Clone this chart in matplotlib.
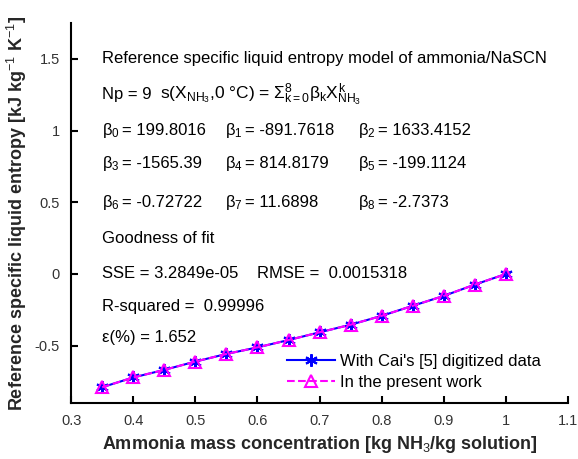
import matplotlib
matplotlib.use("Agg")
import matplotlib.pyplot as plt

x_conc = [0.35, 0.40, 0.45, 0.50, 0.55, 0.60, 0.65, 0.70, 0.75, 0.80, 0.85, 0.90, 0.95, 1.00]
s_cai = [-0.790, -0.722, -0.669, -0.611, -0.558, -0.512, -0.461, -0.407, -0.354, -0.292, -0.222, -0.153, -0.074, 0.000]
s_present = [-0.790, -0.722, -0.669, -0.611, -0.558, -0.512, -0.461, -0.407, -0.354, -0.292, -0.222, -0.153, -0.074, 0.000]

betas = ["199.8016", "-891.7618", "1633.4152", "-1565.39", "814.8179",
         "-199.1124", "-0.72722", "11.6898", "-2.7373"]

plt.rcParams.update({
    "font.family": ["Liberation Sans", "DejaVu Sans"],
    "mathtext.fontset": "custom",
    "mathtext.rm": "Liberation Sans",
    "mathtext.it": "Liberation Sans",
    "mathtext.bf": "Liberation Sans:bold",
    "mathtext.sf": "Liberation Sans",
})

fig, ax = plt.subplots(figsize=(5.78, 4.59), dpi=100)
fig.subplots_adjust(left=0.123, right=0.983, top=0.95, bottom=0.122)

ax.plot(x_conc, s_cai, "-", color="blue", marker=(6, 2, 0), markersize=9,
        markeredgewidth=1.5, lw=1.5, label="With Cai's [5] digitized data")
ax.plot(x_conc, s_present, "--", color="magenta", marker="^", markersize=8,
        markerfacecolor="none", markeredgewidth=1.5, lw=1.5, label="In the present work")

ax.set_xlim(0.3, 1.1)
ax.set_ylim(-0.9, 1.75)
ax.set_xticks([0.3, 0.4, 0.5, 0.6, 0.7, 0.8, 0.9, 1.0, 1.1])
ax.set_xticklabels(["0.3", "0.4", "0.5", "0.6", "0.7", "0.8", "0.9", "1", "1.1"])
ax.set_yticks([-0.5, 0, 0.5, 1, 1.5])
ax.set_yticklabels(["-0.5", "0", "0.5", "1", "1.5"])
ax.tick_params(direction="in", length=5, width=1.5, labelsize=10.5,
               labelcolor="#333333", pad=8)
for side in ["top", "right"]:
    ax.spines[side].set_visible(False)
for side in ["left", "bottom"]:
    ax.spines[side].set_linewidth(1.5)

ax.set_xlabel(r"Ammonia mass concentration [kg NH$_3$/kg solution]",
              fontsize=13, fontweight="bold", color="#262626", labelpad=4)
ax.set_ylabel(r"Reference specific liquid entropy [kJ kg$^{-1}$ K$^{-1}$]",
              fontsize=13, fontweight="bold", color="#262626", labelpad=4)

fs = 12
c0, c1, c2 = 0.35, 0.548, 0.762
ax.text(c0, 1.5, "Reference specific liquid entropy model of ammonia/NaSCN",
        fontsize=fs, va="center")
ax.text(c0, 1.25, "Np = 9", fontsize=fs, va="center")
ax.text(0.4435, 1.25,
        r"s(X$_{\mathrm{NH}_3}$,0 °C) = $\Sigma_{k=0}^{8}\beta_k X_{\mathrm{NH}_3}^{k}$",
        fontsize=fs + 0.5, va="center")
rows_y = [1.0, 0.77, 0.5]
cols_x = [c0, c1, c2]
for i, b in enumerate(betas):
    xb, yb = cols_x[i % 3], rows_y[i // 3]
    ax.text(xb, yb, rf"$\beta_{i}$", fontsize=fs, va="center")
    ax.annotate(f"= {b}", (xb, yb), xytext=(14.5, 0), textcoords="offset points",
                fontsize=fs, va="center")
ax.text(c0, 0.25, "Goodness of fit", fontsize=fs, va="center")
ax.text(c0, 0.0, "SSE = 3.2849e-05", fontsize=fs, va="center")
ax.text(0.6, 0.0, "RMSE =  0.0015318", fontsize=fs, va="center")
ax.text(c0, -0.23, "R-squared =  0.99996", fontsize=fs, va="center")
ax.text(c0, -0.444, "ε(%) = 1.652", fontsize=fs, va="center")

ax.legend(loc="lower right", bbox_to_anchor=(0.975, -0.005), frameon=False,
          fontsize=fs, handlelength=2.9, handletextpad=0.3, labelspacing=0.35)

fig.savefig("out.png", dpi=100)
